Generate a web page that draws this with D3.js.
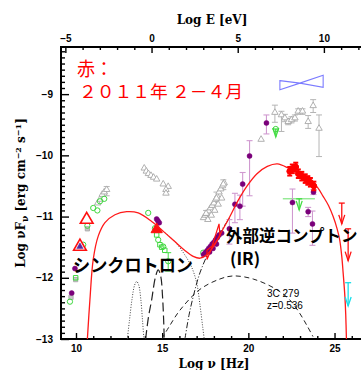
<!DOCTYPE html>
<html>
<head>
<meta charset="utf-8">
<script src="https://cdn.jsdelivr.net/npm/d3@7"></script>
<style>
body { margin: 0; background: #fff; }
</style>
</head>
<body>
<svg id="sed" width="361" height="370"></svg>
<script>
// log nu [Hz], log nuFnu, optional error range
const grayTriangles = [
    [11.26, -10.78], [11.39, -10.72], [11.52, -10.64], [11.64, -10.6],
    [13.96, -10.21], [14.08, -10.26], [14.2, -10.3], [14.35, -10.33], [14.5, -10.36], [14.68, -10.39],
    [15.06, -10.47], [15.35, -10.51], [15.22, -10.56], [15.22, -10.62],
    [17.4, -11.02], [17.5, -10.98], [17.6, -10.95], [17.7, -10.91], [17.8, -10.86], [17.9, -10.82],
    [18.0, -10.78], [18.1, -10.72], [18.2, -10.67], [18.3, -10.6], [18.4, -10.55], [18.5, -10.5],
    [18.6, -10.45], [17.65, -11.05], [17.85, -10.98], [18.05, -10.9], [18.25, -10.8], [18.45, -10.7],
    [20.74, -9.74]
]
const grayTriErr = [
    [11.78, -10.56, -10.51, -10.66],
    [17.55, -10.95, -10.9, -11.02], [18.15, -10.7, -10.6, -10.8], [18.55, -10.47, -10.4, -10.56],
    [21.54, -9.3, -9.18, -9.46], [21.92, -9.34, -9.28, -9.61], [22.12, -9.39, -9.33, -9.45],
    [22.31, -9.45, -9.4, -9.5], [22.5, -9.42, -9.37, -9.47], [22.7, -9.39, -9.34, -9.44],
    [22.89, -9.28, -9.24, -9.33], [23.14, -9.28, -9.24, -9.33], [23.47, -9.45, -9.35, -9.56],
    [23.76, -9.19, -9.09, -9.3], [24.1, -9.56, -9.34, -10.02]
]
const graySquares = [[10.66, -11.2], [9.98, -12.03], [9.71, -12.32]]

const greenCircles = [
    [9.65, -12.39], [10.42, -11.46], [10.66, -11.15],
    [11.0, -10.86], [11.24, -10.9], [11.39, -10.75], [11.64, -10.71],
    [14.19, -10.94], [14.58, -11.19], [14.77, -11.38], [15.06, -11.49], [17.38, -11.59], [21.59, -9.57]
]
const greenSquares = [[9.98, -12.0], [14.68, -11.3], [14.87, -11.46], [14.97, -11.5], [15.15, -11.55]]
const greenErr = [[15.35, -11.73, -11.59, -11.89]]
const greenLimits = [[21.59, -9.57, -9.7], [22.95, -10.71, -10.89]]
const greenSpan = [[22.95, -10.71, 22.0, 23.86]]

const purpleDots = [
    [9.75, -12.25], [9.94, -11.85], [14.68, -11.04], [14.75, -11.07], [14.83, -11.1],
    [17.4, -11.62], [17.5, -11.59], [17.6, -11.56], [17.7, -11.52], [17.8, -11.49], [17.9, -11.45],
    [18.0, -11.42], [18.1, -11.38], [18.2, -11.34], [18.3, -11.3], [18.45, -11.27], [17.75, -11.58],
    [17.95, -11.52], [18.15, -11.45]
]
const purpleErr = [
    [18.9, -11.2, -11.05, -11.45], [19.22, -10.8, -10.62, -11.1], [19.51, -10.83, -10.65, -11.05],
    [19.67, -10.47, -10.28, -10.83], [20.07, -10.01, -9.76, -10.66], [21.05, -9.47, -9.34, -9.65],
    [22.56, -10.77, -10.55, -11.27], [23.47, -10.92, -10.85, -11.0], [23.72, -11.12, -10.91, -11.47],
    [23.78, -10.6, -10.56, -10.64]
]
const purpleTri = [[10.23, -11.49]]

const redOpenTri = [[10.62, -11.05], [10.23, -11.49]]
const redFilledTri = [[14.68, -11.21]]
const redGamma = [
    [22.4, -10.26, 22.25, 22.55, -10.19, -10.33], [22.55, -10.22, 22.4, 22.7, -10.15, -10.29],
    [22.75, -10.19, 22.6, 22.9, -10.12, -10.26], [22.9, -10.3, 22.75, 23.05, -10.23, -10.37],
    [23.1, -10.34, 22.95, 23.25, -10.27, -10.41], [23.3, -10.38, 23.15, 23.45, -10.31, -10.45],
    [23.45, -10.41, 23.3, 23.6, -10.34, -10.48], [23.6, -10.44, 23.45, 23.75, -10.37, -10.51],
    [23.8, -10.5, 23.65, 23.95, -10.43, -10.57]
]
const redXray = [[17.6, -11.55], [17.9, -11.48], [18.3, -11.12], [18.35, -11.32], [17.9, -11.5], [17.6, -11.7]]
const redLimits = [[25.42, -10.78, -11.12], [25.79, -11.2, -11.72]]
const cyanLimits = [[25.79, -12.08, -12.46]]
const fermiBowtie = [[21.83, -8.78], [22.99, -8.82], [24.34, -8.69], [24.34, -8.89], [22.99, -8.82], [21.83, -8.93]]

// model curves
const modelTotal = [
    [10.66, -13], [10.81, -12.35], [11.0, -11.7], [11.29, -11.32], [11.68, -11.1], [12.26, -10.97],
    [12.94, -10.92], [13.61, -10.94], [14.39, -11.08], [15.1, -11.25], [15.7, -11.4], [16.3, -11.55],
    [16.8, -11.65], [17.2, -11.68], [17.6, -11.62], [18.0, -11.48], [18.5, -11.22], [18.93, -11.0],
    [19.4, -10.74], [19.9, -10.51], [20.5, -10.3], [21.1, -10.18], [21.69, -10.14], [22.4, -10.22],
    [23.0, -10.3], [23.57, -10.4], [24.0, -10.52], [24.34, -10.67], [24.65, -10.82], [24.92, -11.0],
    [25.15, -11.2], [25.3, -11.38], [25.42, -11.65], [25.5, -11.92], [25.6, -12.3], [25.65, -12.6], [25.69, -13]
]
const diskBump = [[12.98, -13], [13.1, -12.7], [13.25, -12.35], [13.4, -12.12], [13.52, -12.06],
    [13.64, -12.12], [13.76, -12.35], [13.86, -12.7], [13.94, -13]]
const dustBump = [[14.04, -13], [14.2, -12.65], [14.39, -12.36], [14.6, -12.0], [14.77, -11.87],
    [14.92, -11.98], [15.02, -12.3], [15.08, -12.65], [15.12, -13]]
const synchTail = [[15.2, -11.27], [15.8, -11.43], [16.3, -11.62], [16.7, -11.82], [17.0, -12.08],
    [17.2, -12.46], [17.35, -12.8], [17.44, -13]]
const ecComp = [[16.32, -13], [16.55, -12.62], [16.8, -12.31], [17.19, -11.92], [17.77, -11.54],
    [18.3, -11.28], [18.93, -11.02]]
const sscComp = [[14.97, -13], [15.4, -12.8], [16.03, -12.53], [17.19, -12.19], [18.35, -12.02],
    [19.12, -11.97], [20.28, -12.02], [21.63, -12.19], [22.4, -12.36], [22.98, -12.58], [23.4, -12.78], [23.75, -12.96]]

const nuTicks = [10, 15, 20, 25]
const eTicks = [-5, 0, 5, 10]
const fTicks = [-13, -12, -11, -10, -9]

const SVG = d3.select("#sed")
const Left = 61, Right = 369, Top = 47, Bottom = 339
const LOGH = 14.383

const x = d3.scaleLinear().domain([9.13, 27]).range([Left, Right])
const xe = d3.scaleLinear().domain([9.13 - LOGH, 27 - LOGH]).range([Left, Right])
const y = d3.scaleLinear().domain([-13, -8.23]).range([Bottom, Top])

const tickFont = "'Liberation Sans', Arial, sans-serif"
const titleFont = "'DejaVu Serif', serif"

SVG.append("clipPath").attr("id", "clip")
    .append("rect").attr("x", Left).attr("y", Top).attr("width", Right - Left).attr("height", Bottom - Top)

// axes: minor ticks first
const minorNu = d3.range(9, 27).filter(v => v % 5 != 0 && v > 9.13)
const minorE = d3.range(-5, 13).filter(v => v % 5 != 0)
const minorF = d3.range(-130, -82).map(v => v / 10).filter(v => Math.abs(v - Math.round(v)) > 0.01)

SVG.append("g").attr("transform", `translate(0,${Bottom})`)
    .call(d3.axisBottom(x).tickValues(minorNu).tickSizeInner(-3).tickSizeOuter(0).tickFormat(""))
SVG.append("g").attr("transform", `translate(0,${Top})`)
    .call(d3.axisTop(xe).tickValues(minorE).tickSizeInner(-3).tickSizeOuter(0).tickFormat(""))
SVG.append("g").attr("transform", `translate(${Left},0)`)
    .call(d3.axisLeft(y).tickValues(minorF).tickSizeInner(-4).tickSizeOuter(0).tickFormat(""))

SVG.append("g").attr("transform", `translate(0,${Bottom})`)
    .call(d3.axisBottom(x).tickValues(nuTicks).tickSizeInner(-6).tickSizeOuter(0).tickPadding(6))
SVG.append("g").attr("transform", `translate(0,${Top})`)
    .call(d3.axisTop(xe).tickValues(eTicks).tickSizeInner(-6).tickSizeOuter(0).tickPadding(5)
        .tickFormat(d => d < 0 ? "\u2212" + (-d) : d))
SVG.append("g").attr("transform", `translate(${Left},0)`)
    .call(d3.axisLeft(y).tickValues(fTicks).tickSizeInner(-8).tickSizeOuter(0).tickPadding(8)
        .tickFormat(d => "\u2212" + (-d)))

SVG.selectAll(".tick line").attr("stroke-width", 1.4)
SVG.selectAll(".tick text").style("font-family", tickFont).style("font-weight", 700).style("font-size", "10px")
SVG.selectAll(".domain").remove()

SVG.append("rect")
    .attr("x", Left).attr("y", Top).attr("width", Right - Left).attr("height", Bottom - Top)
    .attr("fill", "none").attr("stroke", "black").attr("stroke-width", 2)

SVG.append("text").text("Log E [eV]")
    .attr("x", 212).attr("y", 24).style("text-anchor", "middle")
    .style("font-family", titleFont).style("font-size", "12px").style("font-weight", 700)
SVG.append("text").text("Log \u03BD [Hz]")
    .attr("x", 214).attr("y", 368).style("text-anchor", "middle")
    .style("font-family", titleFont).style("font-size", "12px").style("font-weight", 700)

const ylab = SVG.append("text")
    .attr("transform", "translate(25,193) rotate(-90)")
    .style("text-anchor", "middle")
    .style("font-family", titleFont).style("font-size", "12px").style("font-weight", 700)
ylab.append("tspan").text("Log \u03BDF")
ylab.append("tspan").text("\u03BD").attr("dy", 3).style("font-size", "9px")
ylab.append("tspan").text(" [erg cm").attr("dy", -3)
ylab.append("tspan").text("\u22122").attr("dy", -4).style("font-size", "8px")
ylab.append("tspan").text(" s").attr("dy", 4)
ylab.append("tspan").text("\u22121").attr("dy", -4).style("font-size", "8px")
ylab.append("tspan").text("]").attr("dy", 4)

const plot = SVG.append("g").attr("clip-path", "url(#clip)")
const pos = d => `translate(${x(d[0])},${y(d[1])})`

function errorBars(data, color, cap, width) {
    const g = plot.append("g").attr("stroke", color).attr("stroke-width", width)
    data.forEach(d => {
        g.append("line").attr("x1", x(d[0])).attr("x2", x(d[0])).attr("y1", y(d[2])).attr("y2", y(d[3]))
        g.append("line").attr("x1", x(d[0]) - cap).attr("x2", x(d[0]) + cap).attr("y1", y(d[2])).attr("y2", y(d[2]))
        g.append("line").attr("x1", x(d[0]) - cap).attr("x2", x(d[0]) + cap).attr("y1", y(d[3])).attr("y2", y(d[3]))
    })
}

function markers(data, type, size, fill, stroke, width) {
    plot.append("g").selectAll("path").data(data).join("path")
        .attr("d", d3.symbol(type, size))
        .attr("transform", pos)
        .attr("fill", fill).attr("stroke", stroke).attr("stroke-width", width)
}

function limits(data, color) {
    const g = plot.append("g").attr("stroke", color).attr("stroke-width", 1.3).attr("fill", "none")
    data.forEach(d => {
        const px = x(d[0]), y0 = y(d[1]), y1 = y(d[2])
        g.append("line").attr("x1", px - 3).attr("x2", px + 3).attr("y1", y0).attr("y2", y0)
        g.append("line").attr("x1", px).attr("x2", px).attr("y1", y0).attr("y2", y1)
        g.append("path").attr("d", `M${px - 3},${y1 - 9}L${px},${y1}L${px + 3},${y1 - 9}`)
    })
}

// Fermi bowtie
plot.append("path")
    .attr("d", d3.line().x(d => x(d[0])).y(d => y(d[1]))(fermiBowtie) + "Z")
    .attr("fill", "none").attr("stroke", "#7b7bff").attr("stroke-width", 1.1)

// gray archival data
errorBars(grayTriErr, "#b5b5b5", 3, 1)
markers(grayTriangles.concat(grayTriErr), d3.symbolTriangle, 18, "white", "#a8a8a8", 0.9)
markers(graySquares, d3.symbolSquare, 18, "#c8c8c8", "#a8a8a8", 0.9)

// model components
const line = d3.line().x(d => x(d[0])).y(d => y(d[1])).curve(d3.curveCatmullRom)
plot.append("path").attr("d", line(diskBump)).attr("fill", "none").attr("stroke", "#444")
    .attr("stroke-width", 1).attr("stroke-dasharray", "1,1.6")
plot.append("path").attr("d", line(synchTail)).attr("fill", "none").attr("stroke", "#444")
    .attr("stroke-width", 1).attr("stroke-dasharray", "1,1.6")
plot.append("path").attr("d", line(dustBump)).attr("fill", "none").attr("stroke", "#222")
    .attr("stroke-width", 1.2).attr("stroke-dasharray", "9,4")
plot.append("path").attr("d", line(ecComp)).attr("fill", "none").attr("stroke", "#222")
    .attr("stroke-width", 1).attr("stroke-dasharray", "6,2,1,2")
plot.append("path").attr("d", line(sscComp)).attr("fill", "none").attr("stroke", "#222")
    .attr("stroke-width", 1).attr("stroke-dasharray", "5,3.5")

// green data
errorBars(greenErr, "#44dd44", 3, 1)
plot.append("g").selectAll("line").data(greenSpan).join("line")
    .attr("x1", d => x(d[2])).attr("x2", d => x(d[3])).attr("y1", d => y(d[1])).attr("y2", d => y(d[1]))
    .attr("stroke", "#66e066").attr("stroke-width", 1)
limits(greenLimits, "#44dd44")
markers(greenCircles.concat(greenErr), d3.symbolCircle, 22, "none", "#3fd83f", 1)
markers(greenSquares, d3.symbolSquare, 20, "none", "#3fd83f", 1)

// purple data
errorBars(purpleErr, "#d09ad0", 3, 1.1)
markers(purpleDots.concat(purpleErr), d3.symbolCircle, 20, "#7a007a", "#7a007a", 0.5)

// red data
plot.append("path")
    .attr("d", d3.line().x(d => x(d[0])).y(d => y(d[1]))(redXray) + "Z")
    .attr("fill", "none").attr("stroke", "#ff1010").attr("stroke-width", 1.2)
markers(redOpenTri, d3.symbolTriangle, 70, "white", "#ff1010", 1.6)
markers(purpleTri, d3.symbolTriangle, 18, "#5a2aa0", "#5a2aa0", 0.5)
markers(redFilledTri, d3.symbolTriangle, 55, "#ff1010", "#ff1010", 1)

plot.append("path").attr("d", line(modelTotal)).attr("fill", "none").attr("stroke", "#ff1a1a").attr("stroke-width", 1.3)

const rg = plot.append("g").attr("stroke", "#ff0000").attr("stroke-width", 2)
redGamma.forEach(d => {
    rg.append("line").attr("x1", x(d[2])).attr("x2", x(d[3])).attr("y1", y(d[1])).attr("y2", y(d[1]))
    rg.append("line").attr("x1", x(d[0])).attr("x2", x(d[0])).attr("y1", y(d[4])).attr("y2", y(d[5]))
    rg.append("line").attr("x1", x(d[0]) - 2.5).attr("x2", x(d[0]) + 2.5).attr("y1", y(d[4])).attr("y2", y(d[4]))
    rg.append("line").attr("x1", x(d[0]) - 2.5).attr("x2", x(d[0]) + 2.5).attr("y1", y(d[5])).attr("y2", y(d[5]))
})
markers(redGamma, d3.symbolCircle, 26, "#ff0000", "#ff0000", 1)
limits(redLimits, "#ff1010")
limits(cyanLimits, "#18dfea")

// annotations
const src = SVG.append("text").style("font-family", tickFont).style("font-size", "10px")
src.append("tspan").text("3C 279").attr("x", 267).attr("y", 297)
src.append("tspan").text("z=0.536").attr("x", 267).attr("y", 309)

const jp = "'Noto Sans CJK JP', sans-serif"
const period = SVG.append("text").style("font-family", jp).style("font-size", "17px").style("fill", "#ff0000")
period.append("tspan").text("赤：").attr("x", 77).attr("y", 76)
    .attr("textLength", 36).attr("lengthAdjust", "spacingAndGlyphs").style("font-size", "19px")
period.append("tspan").text("２０１１年 ２－４月").attr("x", 79).attr("y", 98)
    .attr("textLength", 164).attr("lengthAdjust", "spacingAndGlyphs")
SVG.append("text").text("シンクロトロン").attr("x", 73).attr("y", 272)
    .attr("textLength", 120).attr("lengthAdjust", "spacingAndGlyphs")
    .style("font-family", jp).style("font-weight", 700).style("font-size", "18px")
SVG.append("text").text("外部逆コンプトン").attr("x", 226).attr("y", 242)
    .style("font-family", jp).style("font-weight", 700).style("font-size", "16.5px")
SVG.append("text").text("(IR)").attr("x", 230).attr("y", 265)
    .style("font-family", jp).style("font-weight", 700).style("font-size", "17px")
</script>
</body>
</html>
